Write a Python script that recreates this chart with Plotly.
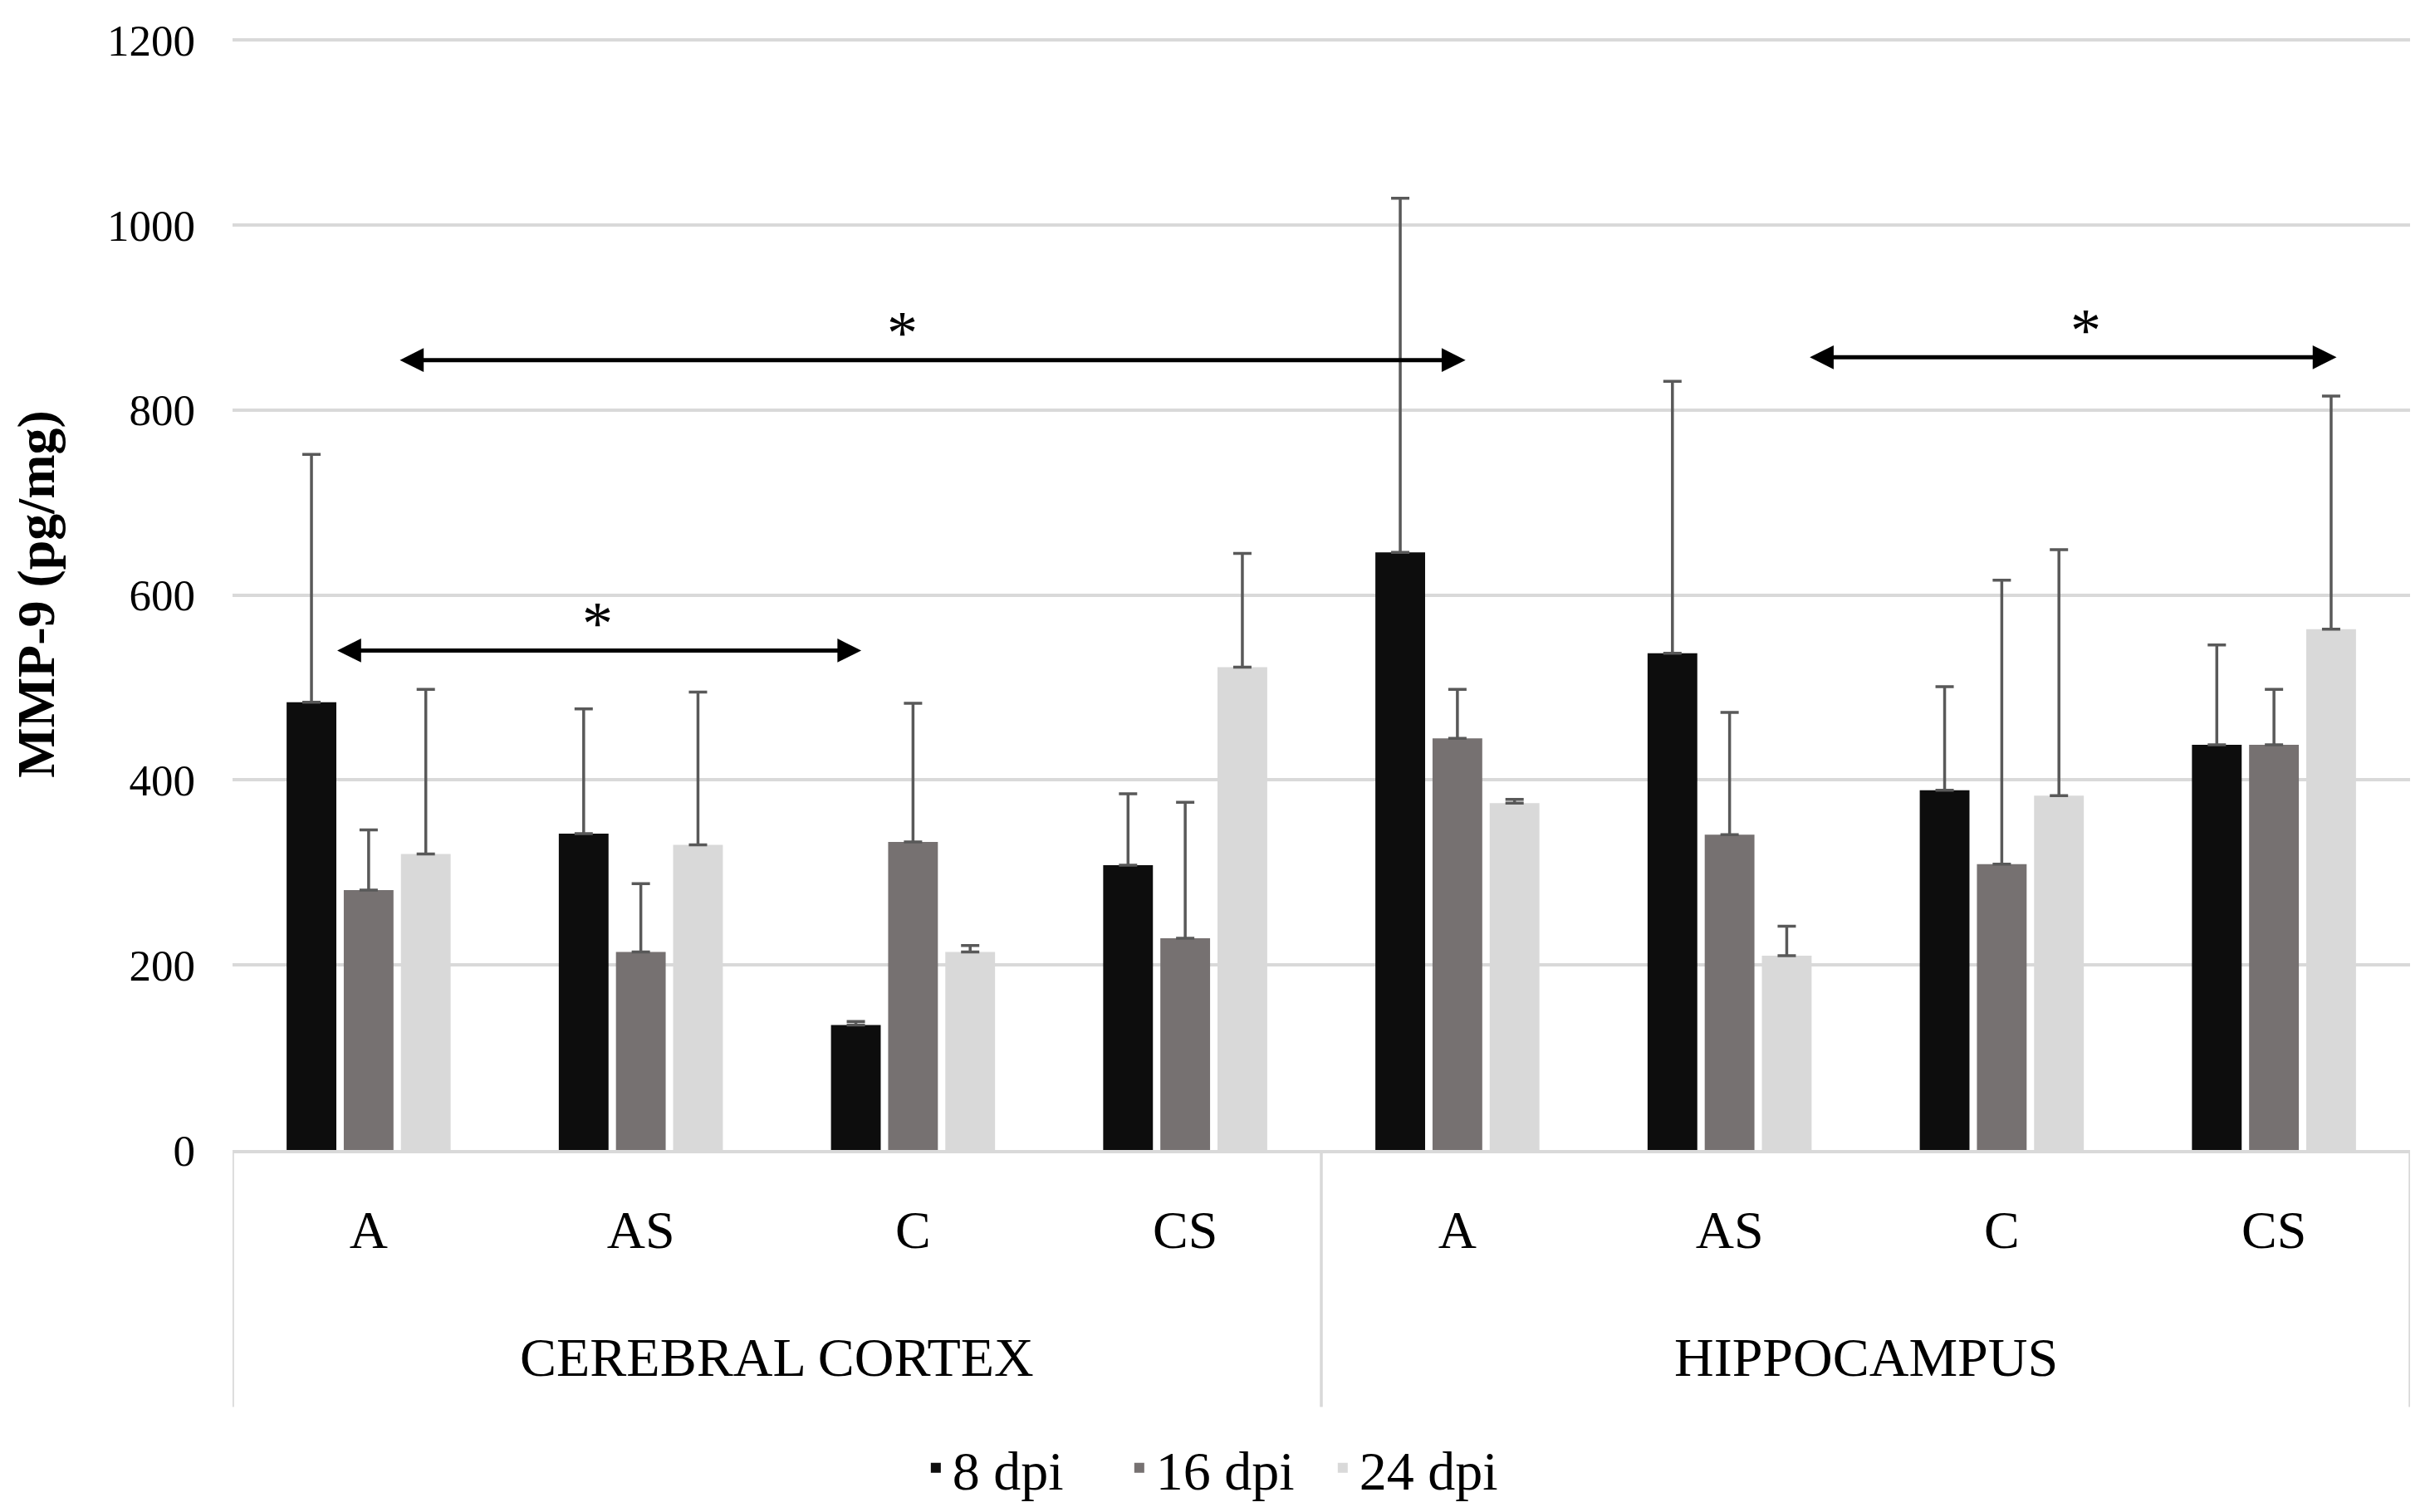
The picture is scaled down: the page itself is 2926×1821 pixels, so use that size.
import plotly.graph_objects as go

# ---- data ----
regions = ["CEREBRAL CORTEX", "HIPPOCAMPUS"]
groups = ["A", "AS", "C", "CS", "A", "AS", "C", "CS"]
series_names = ["8 dpi", "16 dpi", "24 dpi"]

mean_8 = [484, 342, 135, 308, 646, 537, 389, 438]
err_8 = [268, 135, 4, 77, 383, 294, 112, 108]
mean_16 = [281, 214, 333, 229, 445, 341, 309, 438]
err_16 = [65, 74, 150, 147, 53, 132, 307, 60]
mean_24 = [320, 330, 214, 522, 375, 210, 383, 563]
err_24 = [178, 165, 7, 123, 4, 32, 266, 252]

colors = ["#0d0d0d", "#767171", "#d9d9d9"]

# significance brackets (data coords: category index, value)
sig_x_start = [-0.12, 0.11, 5.29]
sig_x_end = [1.81, 4.03, 7.23]
sig_y = [540, 854, 857]
sig_star_x = [0.84, 1.96, 6.31]
sig_star_y = [569, 883, 886]
sig_label = ["*", "*", "*"]

y_ticks = [0, 200, 400, 600, 800, 1000, 1200]

FONT = "Liberation Serif"
W, H = 2926, 1821
# page has an 8px body offset; plot area target: x 280..2902, y(1200) 38, y(0) 1386
OFF = 8
Y_TOP = 1202
ML = 280 - OFF
MR = W - (2902 - OFF)
plot_h = (1386 - 38) * Y_TOP / 1200
MB = H - (1386 - OFF)
MT = int(round(H - MB - plot_h))

x_idx = list(range(len(groups)))

fig = go.Figure()
for name, m, e, c in zip(series_names, [mean_8, mean_16, mean_24],
                         [err_8, err_16, err_24], colors):
    fig.add_trace(go.Bar(
        x=x_idx, y=m, name=name, marker=dict(color=c, line=dict(width=0)),
        error_y=dict(type="data", symmetric=False, array=e,
                     arrayminus=[0] * len(e), color="#595959",
                     thickness=3.5, width=11),
    ))

annotations = []
for xs, xe, yy in zip(sig_x_start, sig_x_end, sig_y):
    annotations.append(dict(
        x=xe, y=yy, ax=xs, ay=yy, xref="x", yref="y", axref="x", ayref="y",
        text="", showarrow=True, arrowhead=2, startarrowhead=2,
        arrowside="end+start", arrowsize=1.15, startarrowsize=1.15,
        arrowwidth=5, arrowcolor="#000000", standoff=0, startstandoff=0,
    ))
for sx, sy, lab in zip(sig_star_x, sig_star_y, sig_label):
    annotations.append(dict(
        x=sx, y=sy, xref="x", yref="y", text=lab, showarrow=False,
        font=dict(family=FONT, size=74, color="#000000"),
        xanchor="center", yanchor="middle",
    ))

ph = H - MT - MB
bottom_y = (1386 - 1698) / ph
label_y = (1386 - 1638) / ph

for i, reg in enumerate(regions):
    annotations.append(dict(
        x=1.5 + 4 * i, y=label_y, xref="x", yref="paper", text=reg,
        showarrow=False, font=dict(family=FONT, size=66, color="#000000"),
        xanchor="center", yanchor="middle",
    ))

shapes = []
for xv in [-0.5, 3.5, 7.5]:
    shapes.append(dict(type="line", xref="x", yref="paper", x0=xv, x1=xv,
                       y0=0, y1=bottom_y,
                       line=dict(color="#d9d9d9", width=3.5)))

fig.update_layout(
    width=W, height=H,
    margin=dict(l=ML, r=MR, t=MT, b=MB),
    paper_bgcolor="white", plot_bgcolor="white",
    barmode="group", bargap=0.37, bargroupgap=0.13,
    font=dict(family=FONT, size=54, color="#000000"),
    xaxis=dict(
        range=[-0.5, 7.5], tickmode="array", tickvals=x_idx, ticktext=groups,
        ticks="", showgrid=False, zeroline=False,
        showline=True, linecolor="#d9d9d9", linewidth=3.5,
        tickfont=dict(family=FONT, size=64, color="#000000"),
        ticklabelstandoff=37,
    ),
    yaxis=dict(
        range=[0, Y_TOP], tickmode="array", tickvals=y_ticks,
        showgrid=True, gridcolor="#d9d9d9", gridwidth=3.5,
        zeroline=False, showline=False, ticks="",
        tickfont=dict(family=FONT, size=53, color="#000000"),
        ticklabelstandoff=44,
        title=dict(text="<b>MMP-9 (pg/mg)</b>", standoff=44,
                   font=dict(family=FONT, size=64, color="#000000")),
    ),
    legend=dict(orientation="h", x=0.4555, xanchor="center",
                y=(1386 - 1772) / ph, yanchor="middle",
                font=dict(family=FONT, size=66, color="#000000"),
                traceorder="normal", itemwidth=30,
                entrywidth=200, entrywidthmode="pixels"),
    annotations=annotations,
    shapes=shapes,
    showlegend=True,
)

fig.write_html("out.html")
